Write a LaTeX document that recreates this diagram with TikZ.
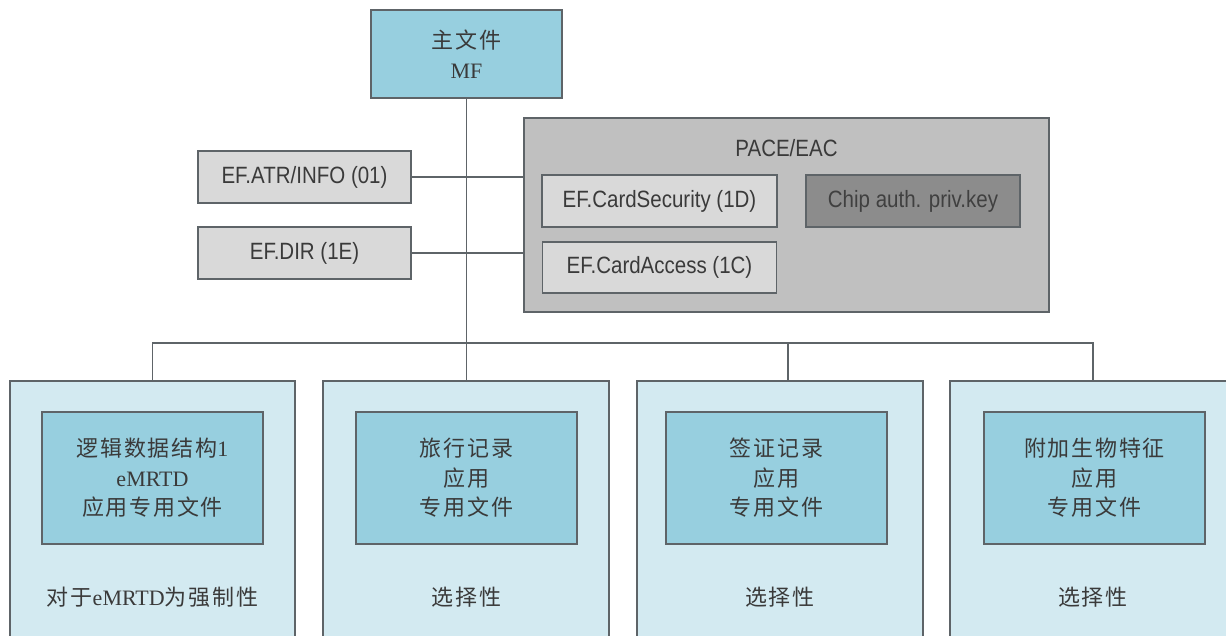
\documentclass[tikz,border=0pt]{standalone}
\usepackage{graphicx}
\usepackage{fontspec}
\setmainfont{Liberation Serif}
\setsansfont{Liberation Sans}
\newfontfamily\cjk[LetterSpace=8]{Noto Sans CJK SC}
\usetikzlibrary{calc}
\newcommand{\tallsf}[1]{\scalebox{1}[1.15]{#1}}
\definecolor{mfblue}{HTML}{97CFDF}
\definecolor{paleblue}{HTML}{D3EAF1}
\definecolor{lgray}{HTML}{D9D9D9}
\definecolor{mgray}{HTML}{C0C0C0}
\definecolor{dgray}{HTML}{8C8C8C}
\definecolor{edge}{HTML}{5E6468}
\definecolor{txt}{HTML}{3A3A3A}
\tikzset{
  box/.style={draw=edge, line width=1.3pt, rectangle, inner sep=0pt, text=txt, align=center},
  bluebox/.style={box, fill=mfblue, font=\fontsize{22}{29.5}\selectfont},
  outerbox/.style={box, fill=paleblue, minimum width=286pt, minimum height=270pt},
  efbox/.style={box, fill=lgray, font=\sffamily\fontsize{20.5}{24}\selectfont, minimum height=52pt},
  conn/.style={draw=edge, line width=1.3pt},
  bottomtext/.style={text=txt, font=\fontsize{22}{26}\selectfont, inner sep=0pt}
}
\begin{document}
\begin{tikzpicture}[x=1pt, y=-1pt]
\clip (0,0) rectangle (1226,635);
\fill[white] (0,0) rectangle (1226,635);

% top
\node[bluebox, minimum width=191pt, minimum height=88pt] (mf) at (466.5,54) {{\cjk 主文件}\\MF};
\node[efbox, minimum width=213pt] (atr) at (304.5,177) {\tallsf{EF.ATR/INFO (01)}};
\node[efbox, minimum width=213pt] (dir) at (304.5,253) {\tallsf{EF.DIR (1E)}};

% PACE/EAC group
\node[box, fill=mgray, minimum width=525pt, minimum height=194pt] (pace) at (786.5,215) {};
\node[text=txt, font=\sffamily\fontsize{20.5}{24}\selectfont, inner sep=0pt] (pacet) at (786.5,148) {\tallsf{PACE/EAC}};
\node[efbox, minimum width=235pt] (csec) at (659.5,201) {\tallsf{EF.CardSecurity (1D)}};
\node[efbox, fill=dgray, minimum width=214pt, text=black!75] (chip) at (913,201) {\tallsf{Chip auth. priv.key}};
\node[efbox, minimum width=234pt, minimum height=51pt] (cacc) at (659.5,267.5) {\tallsf{EF.CardAccess (1C)}};

% bottom outer boxes
\node[outerbox, minimum width=285pt] (b1) at (152.5,516) {};
\node[outerbox] (b2) at (466,516) {};
\node[outerbox] (b3) at (780,516) {};
\node[outerbox] (b4) at (1093,516) {};

% inner boxes
\node[bluebox, minimum width=221pt, minimum height=132pt] (i1) at (152.5,478) {{\cjk 逻辑数据结构}1\\eMRTD\\{\cjk 应用专用文件}};
\node[bluebox, minimum width=221pt, minimum height=132pt] (i2) at (466.5,478) {{\cjk 旅行记录}\\{\cjk 应用}\\{\cjk 专用文件}};
\node[bluebox, minimum width=221pt, minimum height=132pt] (i3) at (776.5,478) {{\cjk 签证记录}\\{\cjk 应用}\\{\cjk 专用文件}};
\node[bluebox, minimum width=221pt, minimum height=132pt] (i4) at (1094.5,478) {{\cjk 附加生物特征}\\{\cjk 应用}\\{\cjk 专用文件}};

% bottom labels
\node[bottomtext] (t1) at (152.5,597) {{\cjk 对于}eMRTD{\cjk 为强制性}};
\node[bottomtext] (t2) at (466.5,597) {\cjk 选择性};
\node[bottomtext] (t3) at (780,597) {\cjk 选择性};
\node[bottomtext] (t4) at (1093,597) {\cjk 选择性};

% connectors
\coordinate (busL) at (152.5,343);
\coordinate (busR) at (1093,343);
\coordinate (bus3) at (788,343);
\draw[conn] (mf.south) -- (mf.south |- b2.north);
\draw[conn] (b1.north) -- (busL) -- (busR) -- (b4.north);
\draw[conn] (bus3) -- (bus3 |- b3.north);
\draw[conn] (atr.east) -- (atr.east -| pace.west);
\draw[conn] (dir.east) -- (dir.east -| pace.west);
\end{tikzpicture}
\end{document}
